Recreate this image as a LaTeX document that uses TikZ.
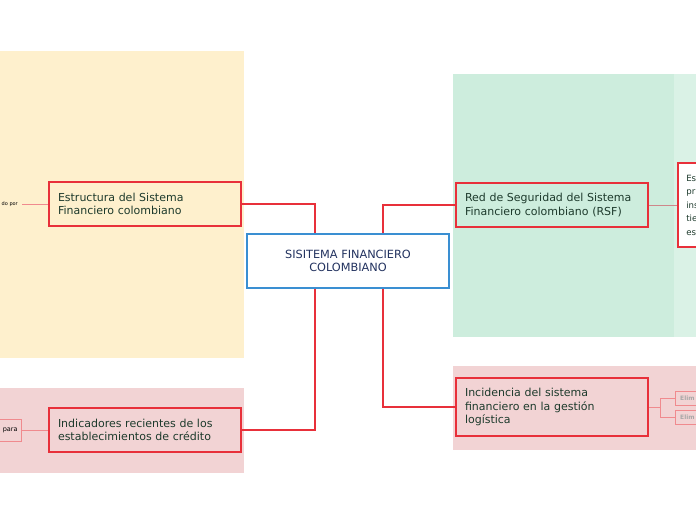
\documentclass[tikz,border=0pt]{standalone}
\usepackage{fontspec}
\setmainfont{DejaVu Sans}
\definecolor{bgyellow}{HTML}{FEF0CD}
\definecolor{bggreen}{HTML}{CDEDDD}
\definecolor{bggreenl}{HTML}{DAF2E6}
\definecolor{bgpink}{HTML}{F2D3D4}
\definecolor{redb}{HTML}{E8303A}
\definecolor{pinkl}{HTML}{F08A8E}
\definecolor{blueb}{HTML}{3A8FD2}
\definecolor{txtg}{HTML}{1D3A2C}
\definecolor{txtb}{HTML}{22325F}
\definecolor{greyt}{HTML}{A8A8A8}
\begin{document}
\begin{tikzpicture}[x=1pt,y=-1pt,
  topic/.style={draw=redb,line width=1.6pt,inner sep=0pt,minimum width=192pt,text width=174pt,align=left,font=\fontsize{11}{13.5}\selectfont,text=txtg},
  centre/.style={draw=blueb,line width=1.6pt,fill=white,inner sep=0pt,minimum width=202pt,minimum height=54pt,align=center,font=\fontsize{11.3}{13.5}\selectfont,text=txtb},
  link/.style={draw=redb,line width=1.1pt},
  thin/.style={draw=pinkl,line width=0.6pt},
  small/.style={draw=pinkl,line width=0.8pt,fill=bgpink,inner sep=1.5pt,font=\fontsize{6}{7}\bfseries\selectfont,text=greyt,anchor=west}]
\useasboundingbox (0,0) rectangle (696,520);
\fill[white] (0,0) rectangle (696,520);
% backgrounds
\fill[bgyellow] (0,51) rectangle (244,358);
\fill[bggreen] (453,74) rectangle (674,337);
\fill[bggreenl] (674,74) rectangle (696,337);
\fill[bgpink] (0,388) rectangle (244,473);
\fill[bgpink] (453,366) rectangle (696,450);
% nodes
\node[centre] (c) at (348,261) {SISITEMA FINANCIERO\\COLOMBIANO};
\node[topic,fill=bgyellow,minimum height=44pt] (lt) at (145,204) {Estructura del Sistema\\Financiero colombiano};
\node[topic,fill=bgpink,minimum height=44pt] (lb) at (145,430) {Indicadores recientes de los\\establecimientos de crédito};
\node[topic,fill=bggreen,minimum height=44pt] (rt) at (552,205) {Red de Seguridad del Sistema\\Financiero colombiano (RSF)};
\node[topic,fill=bgpink,minimum height=58pt] (rb) at (552,407) {Incidencia del sistema\\financiero en la gestión\\logística};
\node[draw=redb,line width=1.6pt,fill=white,anchor=west,minimum height=84pt,minimum width=40pt,inner sep=0pt,text width=40pt,align=left,font=\fontsize{8.6}{13.5}\selectfont,text=txtg] (rf) at (677,205) {\hspace*{8.5pt}Es\\\hspace*{8.5pt}pr\\\hspace*{8.5pt}ins\\\hspace*{8.5pt}tie\\\hspace*{8.5pt}es};
% small left nodes
\node[anchor=east,inner sep=0pt,font=\fontsize{5}{6}\selectfont,text=black] (ls) at (18,204) {do por};
\coordinate (lsr) at (22,204);
\node[small,anchor=east,font=\fontsize{6.5}{8}\selectfont,text=black,inner sep=0pt,minimum height=22pt,text width=22pt,align=right] (lp) at (22,430) {para\hspace*{4pt}};
% small right nodes
\node[small,minimum width=24pt,minimum height=14pt] (e1) at (675,398) {Elim};
\node[small,minimum width=24pt,minimum height=14pt] (e2) at (675,417) {Elim};
% connectors
\draw[link] (c.north -| 315,0) -- (315,204) -- (lt.east);
\draw[link] (c.south -| 315,0) -- (315,430) -- (lb.east);
\draw[link] (c.north -| 383,0) -- (383,205) -- (rt.west);
\draw[link] (c.south -| 383,0) -- (383,407) -- (rb.west);
\draw[thin,draw=pinkl!70!gray] (rt.east) -- (rf.west);
\draw[thin] (lsr) -- (lt.west);
\draw[thin] (lp.east) -- (lb.west);
\draw[thin,line width=1pt] (rb.east) -- (660,407);
\draw[thin,line width=1pt] (660,398) -- (660,417);
\draw[thin,line width=1pt] (660,398) -- (e1.west);
\draw[thin,line width=1pt] (660,417) -- (e2.west);
\end{tikzpicture}
\end{document}
